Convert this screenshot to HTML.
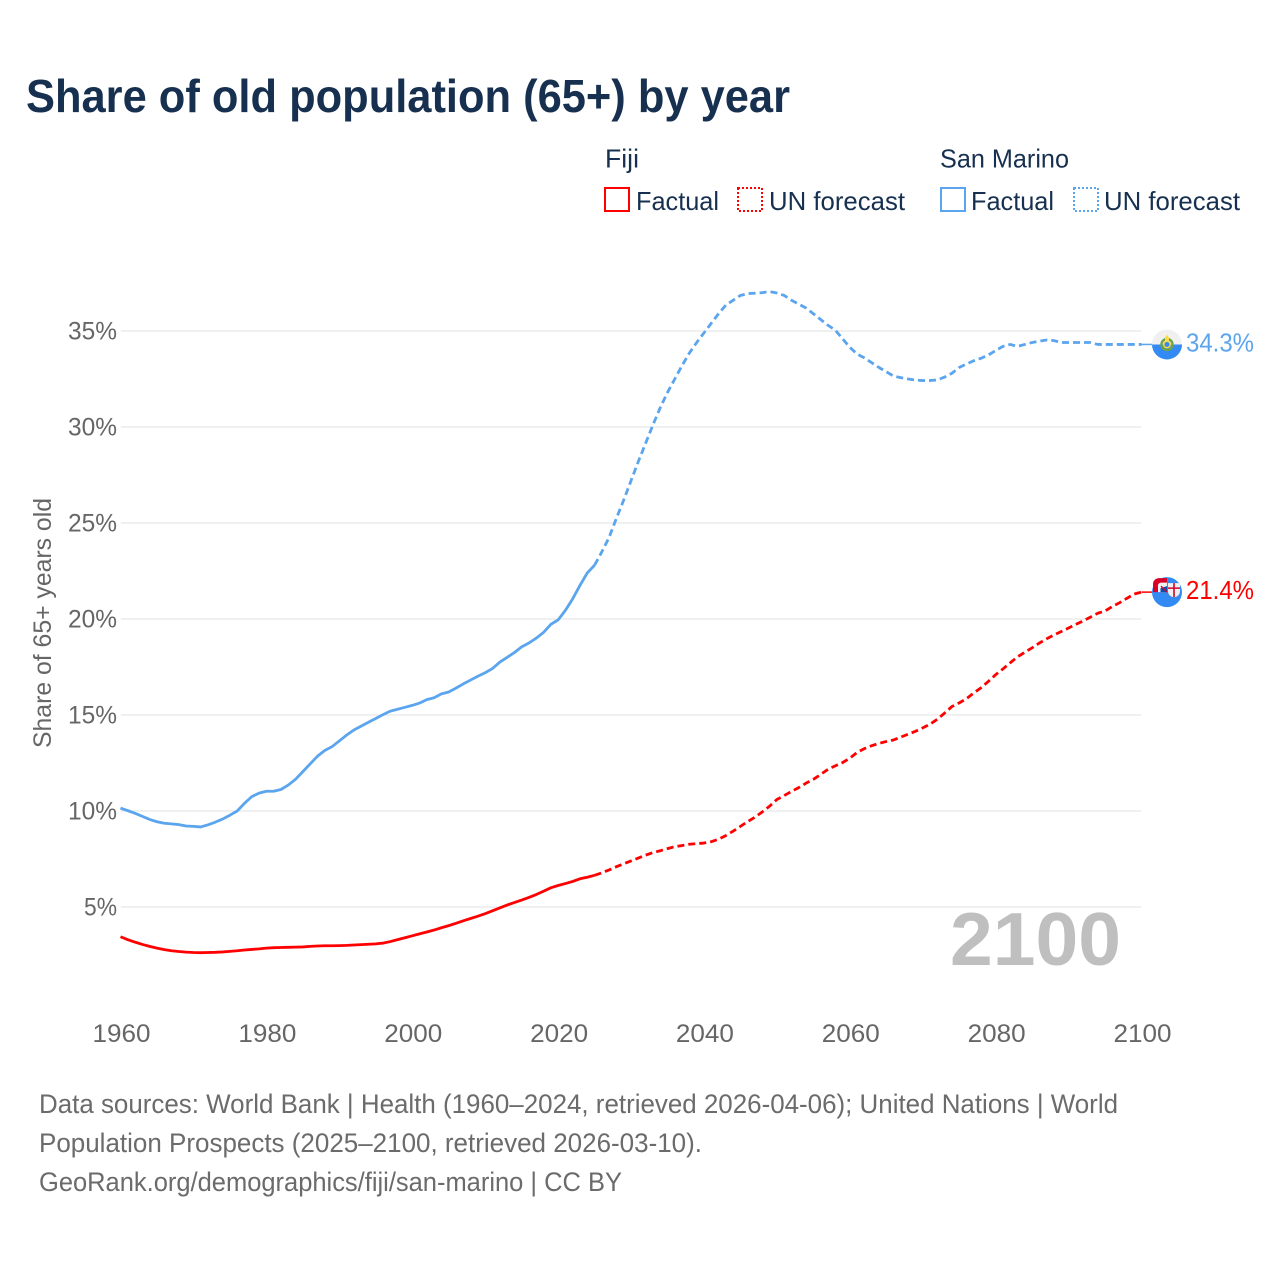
<!DOCTYPE html>
<html lang="en">
<head>
<meta charset="utf-8">
<title>Share of old population (65+) by year</title>
<style>
html,body{margin:0;padding:0;background:#fff;width:1280px;height:1280px;overflow:hidden}
svg{display:block}
text{font-family:"Liberation Sans",sans-serif}
</style>
</head>
<body>
<svg id="chart" xmlns="http://www.w3.org/2000/svg" width="1280" height="1280" viewBox="0 0 1280 1280">
  <rect x="0" y="0" width="1280" height="1280" fill="#ffffff"/>
  <text x="26" y="112" font-size="46" font-weight="700" fill="#17304f" textLength="764" lengthAdjust="spacingAndGlyphs">Share of old population (65+) by year</text>

  <g font-size="26" fill="#17304f">
    <text x="605" y="167.5" textLength="34" lengthAdjust="spacingAndGlyphs">Fiji</text>
    <rect x="605" y="188" width="24" height="23" fill="none" stroke="#ff0000" stroke-width="2"/>
    <text x="636" y="210" textLength="83" lengthAdjust="spacingAndGlyphs">Factual</text>
    <rect x="738" y="188" width="24" height="23" fill="none" stroke="#ff0000" stroke-width="2" stroke-dasharray="2 2"/>
    <text x="769" y="210" textLength="136" lengthAdjust="spacingAndGlyphs">UN forecast</text>
    <text x="940" y="167.5" textLength="129" lengthAdjust="spacingAndGlyphs">San Marino</text>
    <rect x="941" y="188" width="24" height="23" fill="none" stroke="#5ba4ee" stroke-width="2"/>
    <text x="971" y="210" textLength="83" lengthAdjust="spacingAndGlyphs">Factual</text>
    <rect x="1074" y="188" width="24" height="23" fill="none" stroke="#5ba4ee" stroke-width="2" stroke-dasharray="2 2"/>
    <text x="1104" y="210" textLength="136" lengthAdjust="spacingAndGlyphs">UN forecast</text>
  </g>

  <text transform="translate(51,748) rotate(-90)" font-size="25" fill="#666666" textLength="250" lengthAdjust="spacingAndGlyphs">Share of 65+ years old</text>
  <g id="grid"></g>
  <g id="yticks"></g>
  <g id="xticks"></g>
  <text x="950" y="965" font-size="75" font-weight="700" fill="#bfbfbf" textLength="171" lengthAdjust="spacingAndGlyphs">2100</text>
  <g id="series"></g>
  <g id="flagSM">
    <circle cx="0" cy="0" r="15" fill="#f0f0f0"/>
    <path d="M-15 0A15 15 0 0 0 15 0Z" fill="#338af3"/>
    <path d="M-2.5 -6L0 -10L2.5 -6Z" fill="#ffda44"/>
    <circle cx="0" cy="0" r="5.5" fill="none" stroke="#6da544" stroke-width="2.4"/>
    <circle cx="0" cy="0" r="3.2" fill="#338af3" stroke="#ffda44" stroke-width="1.4"/>
    <rect x="-2" y="-7" width="4" height="3" fill="#ffda44"/>
  </g>
  <g id="flagFJ">
    <circle cx="0" cy="0" r="15" fill="#338af3"/>
    <path d="M-14 0V-8A6 6 0 0 1 -8 -14H0V0Z" fill="#d80027"/>
    <path d="M-9 0V-6A3 3 0 0 1 -6 -9.5H0V0Z" fill="#f0f0f0"/>
    <path d="M-6.5 0V-4L0 -6V0Z" fill="#0052b4"/>
    <path d="M-6 -6L0 0" stroke="#d80027" stroke-width="1.3"/>
    <path d="M1 -9H13V-1A6 6 0 0 1 7 5A6 6 0 0 1 1 -1Z" fill="#f0f0f0"/>
    <path d="M7 -9V5M1 -4H13" stroke="#d80027" stroke-width="1.6"/>
  </g>
  <g font-size="27" fill="#6b6b6b">
    <text x="39" y="1113" textLength="1079" lengthAdjust="spacingAndGlyphs">Data sources: World Bank | Health (1960–2024, retrieved 2026-04-06); United Nations | World</text>
    <text x="39" y="1152" textLength="663" lengthAdjust="spacingAndGlyphs">Population Prospects (2025–2100, retrieved 2026-03-10).</text>
    <text x="39" y="1191" textLength="583" lengthAdjust="spacingAndGlyphs">GeoRank.org/demographics/fiji/san-marino | CC BY</text>
  </g>
</svg>
<script>
const factualStartYear = 1960;
const forecastStartYear = 2025;
const yTickValues = [5, 10, 15, 20, 25, 30, 35];
const xTickYears = [1960, 1980, 2000, 2020, 2040, 2060, 2080, 2100];

const sanMarinoFactual = [
  10.15,10.02,9.88,9.72,9.56,9.44,9.36,9.33,9.29,9.22,
  9.2,9.17,9.28,9.42,9.58,9.78,10.0,10.4,10.75,10.93,
  11.03,11.03,11.12,11.35,11.65,12.05,12.45,12.85,13.15,13.35,
  13.65,13.95,14.22,14.42,14.62,14.82,15.02,15.2,15.3,15.4,
  15.5,15.62,15.8,15.9,16.1,16.2,16.4,16.62,16.82,17.02,
  17.2,17.42,17.75,18.0,18.25,18.55,18.75,19.0,19.3,19.72,
  19.95,20.45,21.05,21.75,22.4,22.8
];
const sanMarinoForecast = [
  22.8,23.5,24.25,25.25,26.2,27.2,28.2,29.15,30.1,31.0,
  31.8,32.5,33.2,33.85,34.4,34.9,35.4,35.9,36.35,36.6,
  36.85,36.95,36.97,37.0,37.05,36.98,36.85,36.6,36.4,36.2,
  35.9,35.6,35.3,35.05,34.6,34.15,33.8,33.6,33.35,33.1,
  32.88,32.65,32.57,32.5,32.44,32.42,32.42,32.45,32.6,32.8,
  33.1,33.28,33.45,33.58,33.75,33.98,34.2,34.3,34.2,34.3,
  34.4,34.47,34.53,34.5,34.4,34.4,34.4,34.4,34.4,34.3,
  34.3,34.3,34.3,34.3,34.3,34.3
];
const fijiFactual = [
  3.45,3.3,3.17,3.05,2.95,2.86,2.78,2.72,2.68,2.65,
  2.63,2.62,2.63,2.64,2.66,2.69,2.72,2.76,2.79,2.82,
  2.86,2.88,2.89,2.9,2.91,2.92,2.95,2.97,2.98,2.98,
  2.99,3.0,3.02,3.04,3.06,3.08,3.12,3.2,3.3,3.4,
  3.5,3.6,3.7,3.8,3.92,4.03,4.15,4.28,4.4,4.52,
  4.65,4.8,4.95,5.1,5.23,5.36,5.5,5.65,5.82,6.0,
  6.12,6.22,6.33,6.47,6.55,6.65
];
const fijiForecast = [
  6.65,6.78,6.93,7.1,7.25,7.4,7.55,7.7,7.83,7.93,
  8.04,8.14,8.2,8.27,8.3,8.33,8.4,8.53,8.72,8.95,
  9.2,9.45,9.68,9.95,10.25,10.6,10.8,11.02,11.22,11.45,
  11.65,11.9,12.17,12.35,12.52,12.75,13.05,13.25,13.4,13.52,
  13.62,13.7,13.85,14.0,14.15,14.33,14.52,14.78,15.1,15.44,
  15.63,15.85,16.15,16.42,16.75,17.1,17.4,17.72,18.03,18.27,
  18.5,18.75,18.97,19.17,19.35,19.53,19.72,19.9,20.1,20.3,
  20.42,20.65,20.85,21.08,21.3,21.4
];

const NS = 'http://www.w3.org/2000/svg';
function xScale(year) { return 120.5 + (year - 1960) * 7.293; }
function yScale(v) { return 1003 - v * 19.2; }
function make(tag, attrs, parent, content) {
  const el = document.createElementNS(NS, tag);
  for (const k in attrs) el.setAttribute(k, attrs[k]);
  if (content !== undefined) el.textContent = content;
  parent.appendChild(el);
  return el;
}
function linePath(values, startYear) {
  return values.map(function (v, i) {
    return (i ? 'L' : 'M') + xScale(startYear + i).toFixed(2) + ' ' + yScale(v).toFixed(2);
  }).join('');
}

const gridG = document.getElementById('grid');
const yG = document.getElementById('yticks');
const xG = document.getElementById('xticks');
const seriesG = document.getElementById('series');
const svgRoot = document.getElementById('chart');

yTickValues.forEach(function (v) {
  const line = make('line', { x1: 121, x2: 1141, y1: yScale(v), y2: yScale(v), stroke: '#ebebeb', 'stroke-width': 1.5 }, gridG);
  
  
  const label = v + '%';
  const w = label.length === 2 ? 33 : 49;
  const t = make('text', { x: 117 - w, y: yScale(v) + 8.5, 'font-size': 25, fill: '#666666', textLength: w, lengthAdjust: 'spacingAndGlyphs' }, yG, label);
  
  
});

xTickYears.forEach(function (yr) {
  const t = make('text', { x: xScale(yr) - 28, y: 1042, 'font-size': 25, fill: '#666666', textLength: 58, lengthAdjust: 'spacingAndGlyphs' }, xG, String(yr));
  
  
});

function drawSeries(key, color, factual, forecast, flagId, labelY) {
  const solid = make('path', { d: linePath(factual, factualStartYear), fill: 'none', stroke: color, 'stroke-width': 2.8, 'stroke-linejoin': 'round' }, seriesG);
  
  
  const dashed = make('path', { d: linePath(forecast, forecastStartYear), fill: 'none', stroke: color, 'stroke-width': 2.8, 'stroke-dasharray': '7 4', 'stroke-linejoin': 'round' }, seriesG);
  
  
  const last = forecast[forecast.length - 1];
  const endX = xScale(forecastStartYear + forecast.length - 1);
  const endY = yScale(last);
  const conn = make('line', { x1: endX, x2: 1153, y1: endY, y2: endY, stroke: color, 'stroke-width': 1.5 }, seriesG);
  
  
  document.getElementById(flagId).setAttribute('transform', 'translate(1167,' + endY + ')');
  const lab = make('text', { x: 1186, y: endY + labelY, 'font-size': 26, fill: color, textLength: 68, lengthAdjust: 'spacingAndGlyphs' }, svgRoot, last.toFixed(1) + '%');
  
  
}

drawSeries('san-marino', '#5ba4ee', sanMarinoFactual, sanMarinoForecast, 'flagSM', 7);
drawSeries('fiji', '#ff0000', fijiFactual, fijiForecast, 'flagFJ', 7);
</script>
</body>
</html>
